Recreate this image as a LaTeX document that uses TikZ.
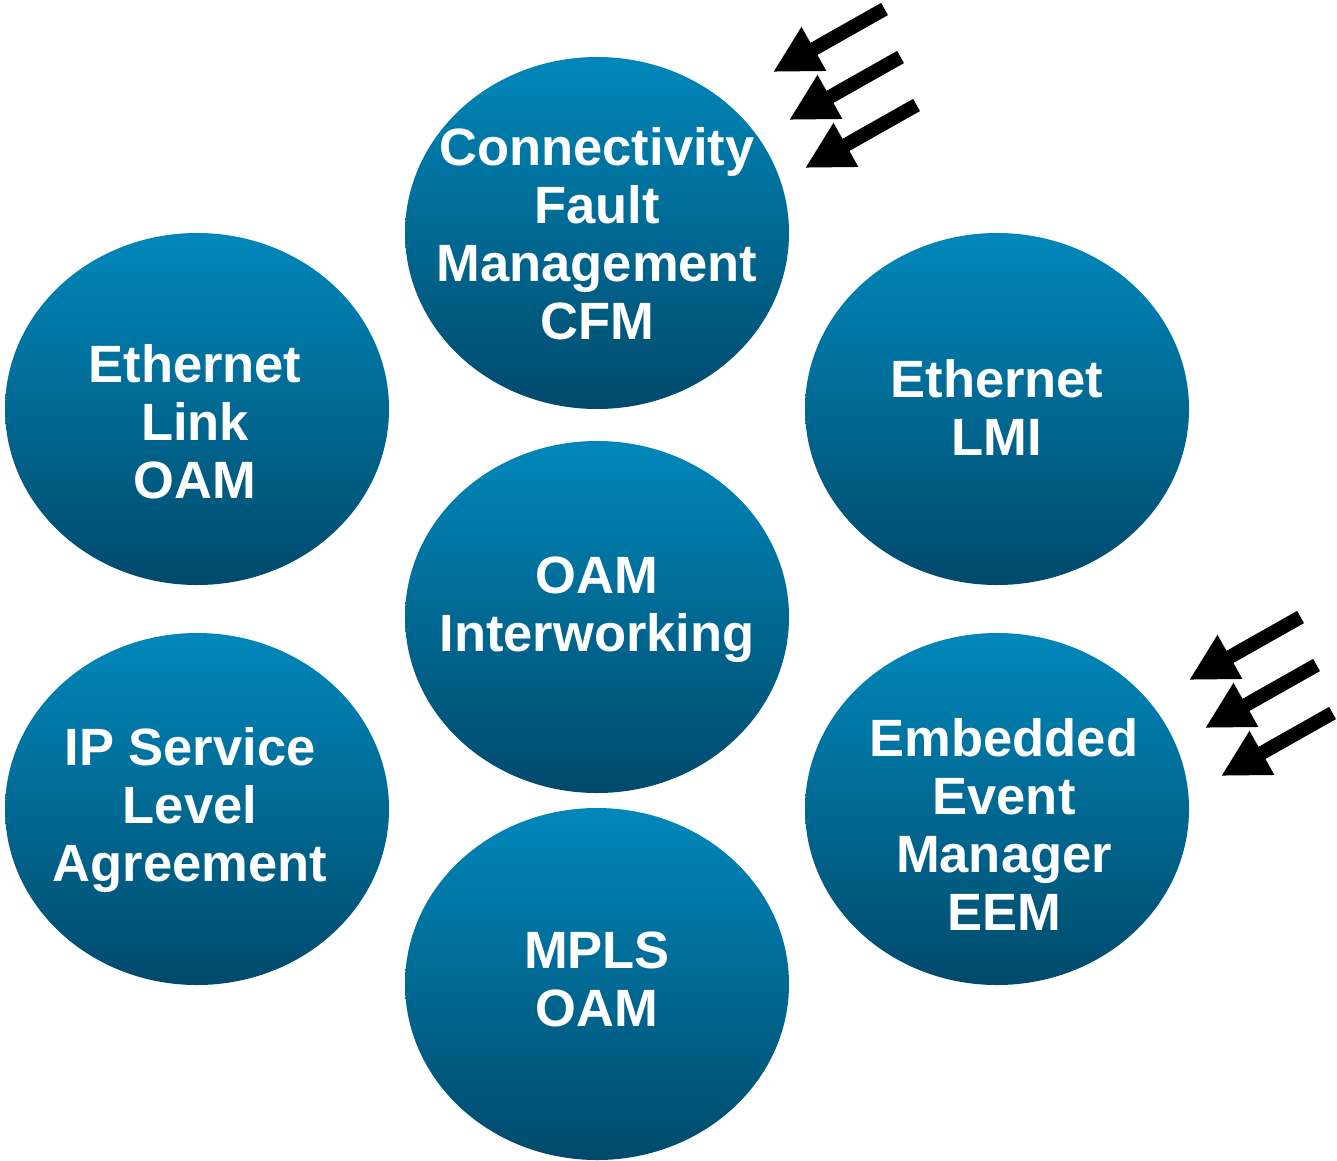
\documentclass[tikz,border=0pt]{standalone}
\usepackage{fontspec}
\setmainfont{Liberation Sans}
\usetikzlibrary{shapes.geometric,arrows.meta}
\definecolor{bluetop}{HTML}{0087BA}
\definecolor{bluebot}{HTML}{004A6B}
\tikzset{
  bubble/.style={ellipse, minimum width=384pt, minimum height=352pt, inner sep=0pt,
    top color=bluetop, bottom color=bluebot, draw=none},
  bubbletext/.style={text=white, align=center, inner sep=0pt,
    font=\fontsize{52.5}{58}\selectfont\bfseries},
  blockarrow/.style={line width=14pt, -{Triangle[length=47pt, width=47pt]}, black}
}
\begin{document}
\begin{tikzpicture}[x=1pt, y=-1pt]
\useasboundingbox (0,0) rectangle (1337,1160);
\node[bubble] (cfm) at (597,233) {};
\node[bubble] (elo) at (197,409) {};
\node[bubble] (lmi) at (997,409) {};
\node[bubble] (oiw) at (597,617) {};
\node[bubble] (sla) at (197,809) {};
\node[bubble] (eem) at (997,809) {};
\node[bubble] (mpls) at (597,984) {};
\node[bubbletext] (cfmt) at ([yshift=-1pt]cfm.center) {Connectivity\\Fault\\Management\\CFM};
\node[bubbletext] (elot) at ([xshift=-2pt,yshift=-13pt]elo.center) {Ethernet\\Link\\OAM};
\node[bubbletext] (lmit) at ([yshift=2pt]lmi.center) {Ethernet\\LMI};
\node[bubbletext] (oiwt) at ([yshift=7pt]oiw.center) {OAM\\Interworking};
\node[bubbletext] (slat) at ([xshift=-7pt,yshift=-1pt]sla.center) {IP Service\\Level\\Agreement};
\node[bubbletext] (eemt) at ([xshift=7pt,yshift=-15pt]eem.center) {Embedded\\Event\\Manager\\EEM};
\node[bubbletext] (mplst) at ([yshift=5pt]mpls.center) {MPLS\\OAM};
% arrows near CFM
\foreach \i/\dx/\dy in {1/0/0, 2/16/48, 3/32/96} {
  \coordinate (ct\i) at (884.5+\dx, 9+\dy);
  \coordinate (ch\i) at (773+\dx, 72+\dy);
  \draw[blockarrow] (ct\i) -- (ch\i);
}
% arrows near EEM
\foreach \i/\dx/\dy in {1/0/0, 2/16/48, 3/32/96} {
  \coordinate (et\i) at (1300.5+\dx, 617+\dy);
  \coordinate (eh\i) at (1189+\dx, 680+\dy);
  \draw[blockarrow] (et\i) -- (eh\i);
}
\end{tikzpicture}
\end{document}
